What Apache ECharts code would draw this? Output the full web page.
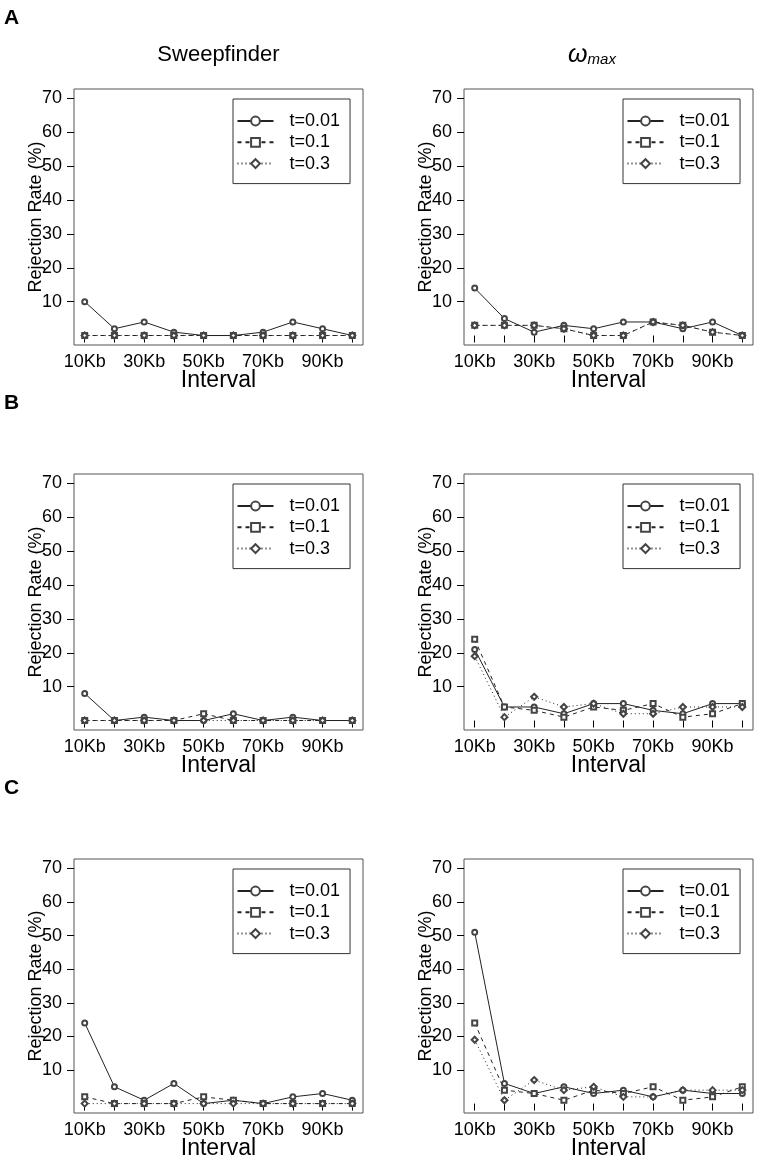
<!DOCTYPE html>
<html><head><meta charset="utf-8">
<script src="https://cdn.jsdelivr.net/npm/echarts@6/dist/echarts.min.js"></script>
<style>html,body{margin:0;padding:0;background:#fff}#c{width:759px;height:1161px}</style>
</head><body><div id="c"></div>
<script>
// ---- data ----
const intervals = [10, 20, 30, 40, 50, 60, 70, 80, 90, 100];
const xTickValues = [10, 20, 30, 40, 50, 60, 70, 80, 90, 100];
const xLabelValues = [10, 30, 50, 70, 90];
const yTickValues = [10, 20, 30, 40, 50, 60, 70];
const seriesNames = ['t=0.01', 't=0.1', 't=0.3'];
const columnTitles = ['Sweepfinder', 'ω', 'max'];
const rowLetters = ['A', 'B', 'C'];

// Row A
const sweepA_t001 = [10, 2, 4, 1, 0, 0, 1, 4, 2, 0];
const sweepA_t01  = [0, 0, 0, 0, 0, 0, 0, 0, 0, 0];
const sweepA_t03  = [0, 0, 0, 0, 0, 0, 0, 0, 0, 0];
const omegaA_t001 = [14, 5, 1, 3, 2, 4, 4, 2, 4, 0];
const omegaA_t01  = [3, 3, 3, 2, 0, 0, 4, 3, 1, 0];
const omegaA_t03  = [3, 3, 3, 2, 0, 0, 4, 3, 1, 0];
// Row B
const sweepB_t001 = [8, 0, 1, 0, 0, 2, 0, 1, 0, 0];
const sweepB_t01  = [0, 0, 0, 0, 2, 0, 0, 0, 0, 0];
const sweepB_t03  = [0, 0, 0, 0, 0, 0, 0, 0, 0, 0];
const omegaB_t001 = [21, 4, 4, 2, 5, 5, 3, 2, 5, 5];
const omegaB_t01  = [24, 4, 3, 1, 4, 3, 5, 1, 2, 5];
const omegaB_t03  = [19, 1, 7, 4, 5, 2, 2, 4, 4, 4];
// Row C
const sweepC_t001 = [24, 5, 1, 6, 0, 1, 0, 2, 3, 1];
const sweepC_t01  = [2, 0, 0, 0, 2, 1, 0, 0, 0, 0];
const sweepC_t03  = [0, 0, 0, 0, 0, 0, 0, 0, 0, 0];
const omegaC_t001 = [51, 6, 3, 5, 3, 4, 2, 4, 3, 3];
const omegaC_t01  = [24, 4, 3, 1, 4, 3, 5, 1, 2, 5];
const omegaC_t03  = [19, 1, 7, 4, 5, 2, 2, 4, 4, 4];

// ---- layout ----
const panels = [
  [sweepA_t001, sweepA_t01, sweepA_t03], [omegaA_t001, omegaA_t01, omegaA_t03],
  [sweepB_t001, sweepB_t01, sweepB_t03], [omegaB_t001, omegaB_t01, omegaB_t03],
  [sweepC_t001, sweepC_t01, sweepC_t03], [omegaC_t001, omegaC_t01, omegaC_t03]
];
const colLeft = [74, 464];
const rowTop = [89, 474, 859];
const gW = 289, gH = 256;
const FONT = '"Liberation Sans", Arial, Helvetica, sans-serif';
const INK = '#000';
const LINE = '#222';

const styles = [
  { type: 'solid', symbol: 'emptyCircle', size: 5 },
  { type: [4, 4], symbol: 'emptyRect', size: 5 },
  { type: [1, 3], symbol: 'emptyDiamond', size: 6 }
];

const grid = [], xAxis = [], yAxis = [], series = [], legend = [];
panels.forEach((sets, p) => {
  const r = Math.floor(p / 2), c = p % 2;
  grid.push({ left: colLeft[c], top: rowTop[r], width: gW, height: gH,
    show: true, borderColor: '#555', borderWidth: 1, backgroundColor: 'transparent' });
  xAxis.push({
    type: 'value', gridIndex: p, min: 6.4, max: 103.6,
    splitLine: { show: false }, axisLine: { show: false },
    axisTick: { show: true, length: 7, customValues: xTickValues, lineStyle: { color: INK } },
    axisLabel: { customValues: xLabelValues, formatter: v => v + 'Kb', margin: 8,
      fontSize: 18, color: INK, fontFamily: FONT },
    name: 'Interval', nameLocation: 'middle', nameGap: 24, nameMoveOverlap: false,
    nameTextStyle: { fontSize: 23, color: INK, fontFamily: FONT }
  });
  yAxis.push({
    type: 'value', gridIndex: p, min: -2.8, max: 72.8,
    splitLine: { show: false }, axisLine: { show: false },
    axisTick: { show: true, length: 7, customValues: yTickValues, lineStyle: { color: INK } },
    axisLabel: { customValues: yTickValues, margin: 12, fontSize: 18, color: INK, fontFamily: FONT },
    name: 'Rejection Rate (%)', nameLocation: 'middle', nameGap: 29, nameMoveOverlap: false,
    nameTextStyle: { fontSize: 18, color: INK, fontFamily: FONT }
  });
  sets.forEach((vals, k) => {
    const st = styles[k];
    series.push({
      type: 'line', name: seriesNames[k], xAxisIndex: p, yAxisIndex: p,
      data: intervals.map((x, i) => [x, vals[i]]),
      symbol: st.symbol, symbolSize: st.size, showAllSymbol: true,
      lineStyle: { color: LINE, width: 1, type: st.type },
      itemStyle: { color: '#444', borderColor: '#444', borderWidth: 1 },
      emphasis: { disabled: true }, animation: false, silent: true
    });
  });
  legend.push({
    data: seriesNames, orient: 'vertical',
    left: colLeft[c] + 159, top: rowTop[r] + 10,
    itemWidth: 36, itemHeight: 11, itemGap: 3.3,
    padding: [13, 10, 11, 3.5],
    borderColor: '#333', borderWidth: 1, backgroundColor: '#fff',
    itemStyle: { borderWidth: 1 },
    formatter: name => '{g|}' + name,
    textStyle: { fontSize: 18, color: INK, fontFamily: FONT, lineHeight: 18,
      rich: { g: { width: 11 } } },
    selectedMode: false
  });
});

const graphic = [
  { type: 'text', x: 218.5, y: 55, style: { text: columnTitles[0], align: 'center', verticalAlign: 'middle',
      font: '22px ' + FONT, fill: INK } },
  { type: 'text', x: 592, y: 55, style: { text: '{w|' + columnTitles[1] + '}{s|' + columnTitles[2] + '}',
      align: 'center', verticalAlign: 'middle', fill: INK,
      rich: { w: { fontSize: 25, fontStyle: 'italic', fontFamily: FONT, lineHeight: 25, verticalAlign: 'bottom' },
              s: { fontSize: 15, fontStyle: 'italic', fontFamily: FONT, lineHeight: 15, verticalAlign: 'bottom' } } } }
];
rowLetters.forEach((t, i) => {
  graphic.push({ type: 'text', x: 4, y: rowTop[i] - 71, style: { text: t, font: 'bold 21px ' + FONT, fill: INK,
    align: 'left', verticalAlign: 'middle' } });
});

const chart = echarts.init(document.getElementById('c'), null, { renderer: 'canvas' });
chart.setOption({ animation: false, backgroundColor: '#fff', grid, xAxis, yAxis, series, legend, graphic });
</script></body></html>
